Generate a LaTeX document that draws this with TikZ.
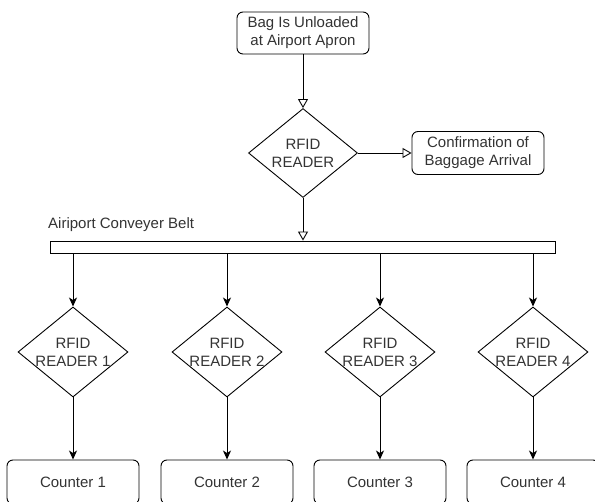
\documentclass[tikz,border=0pt]{standalone}
\usepackage{fontspec}
\setmainfont{Liberation Sans}
\usetikzlibrary{shapes.geometric,arrows.meta}
\begin{document}
\begin{tikzpicture}[x=10pt,y=10pt]
	\tikzstyle{every node}+=[inner sep=0pt, text=black!80, font=\fontsize{15}{18}\selectfont, align=center]
	\tikzstyle{stepbox}=[draw=black, line width=0.9pt, rounded corners=6pt, minimum width=132pt, minimum height=42pt]
	\tikzstyle{reader}=[draw=black, line width=0.9pt, diamond, aspect=1.22, inner sep=-4pt, minimum width=110pt, minimum height=90pt]
	\tikzstyle{openarrow}=[black, line width=0.9pt, -{Triangle[open,length=9pt,width=10pt]}]
	\tikzstyle{fillarrow}=[black, line width=0.9pt, -{Stealth[length=9pt,width=8pt,inset=2.5pt]}]
	\useasboundingbox (0,0) rectangle (59.5,-50.2);
	\draw (30.3,-3.3) node [stepbox] (bag) {Bag Is Unloaded\\at Airport Apron};
	\draw (30.3,-15.3) node [reader, minimum width=109pt, minimum height=89pt] (rfid) {RFID\\READER};
	\draw (47.8,-15.3) node [stepbox, minimum height=43pt] (conf) {Confirmation of\\Baggage Arrival};
	\draw (30.3,-24.7) node [draw=black, line width=0.9pt, minimum width=505pt, minimum height=12pt] (belt) {};
	\draw (4.8,-22.5) node [anchor=west] (beltlabel) {Airiport Conveyer Belt};
	\draw (7.3,-35.2) node [reader] (r1) {RFID\\READER 1};
	\draw (22.7,-35.2) node [reader] (r2) {RFID\\READER 2};
	\draw (38,-35.2) node [reader] (r3) {RFID\\READER 3};
	\draw (53.3,-35.2) node [reader] (r4) {RFID\\READER 4};
	\draw (7.3,-48.2) node [stepbox, minimum height=44pt] (c1) {Counter 1};
	\draw (22.7,-48.2) node [stepbox, minimum height=44pt] (c2) {Counter 2};
	\draw (38,-48.2) node [stepbox, minimum height=44pt] (c3) {Counter 3};
	\draw (53.3,-48.2) node [stepbox, minimum height=44pt] (c4) {Counter 4};
	\draw [openarrow] (bag) -- (rfid);
	\draw [openarrow] (rfid) -- (conf);
	\draw [openarrow] (rfid) -- (belt);
	\draw [fillarrow] (belt.south -| r1) -- (r1);
	\draw [fillarrow] (belt.south -| r2) -- (r2);
	\draw [fillarrow] (belt.south -| r3) -- (r3);
	\draw [fillarrow] (belt.south -| r4) -- (r4);
	\draw [fillarrow] (r1) -- (c1);
	\draw [fillarrow] (r2) -- (c2);
	\draw [fillarrow] (r3) -- (c3);
	\draw [fillarrow] (r4) -- (c4);
\end{tikzpicture}
\end{document}
